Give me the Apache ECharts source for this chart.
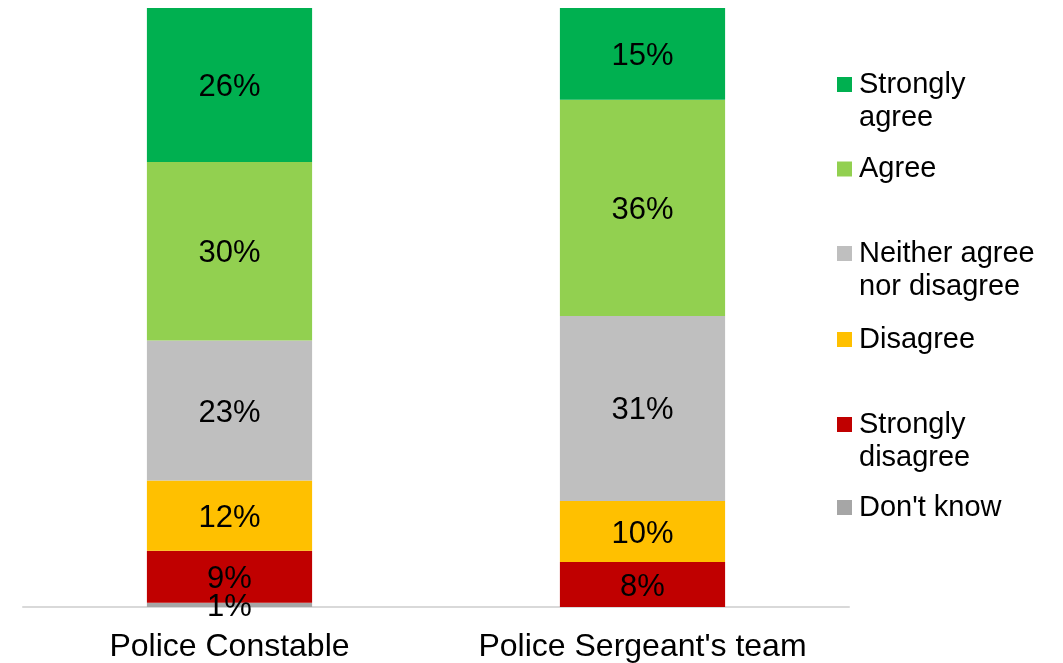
<!DOCTYPE html>
<html>
<head>
<meta charset="utf-8">
<script src="https://cdn.jsdelivr.net/npm/echarts@6/dist/echarts.min.js"></script>
<style>
  html, body { margin: 0; padding: 0; background: #fff; }
  #chart { width: 1063px; height: 663px; }
</style>
</head>
<body>
<div id="chart"></div>
<script>
  // categories on the x axis
  var categories = ['Police Constable', "Police Sergeant's team"];

  // stacked shares (%), bottom to top
  var dontKnow = [0.7, 0];
  var stronglyDisagree = [8.7, 7.5];
  var disagree = [11.7, 10.2];
  var neither = [23.4, 30.9];
  var agree = [29.8, 36.1];
  var stronglyAgree = [25.7, 15.3];

  var seriesNames = ["Don't know", 'Strongly disagree', 'Disagree',
    'Neither agree nor disagree', 'Agree', 'Strongly agree'];
  var seriesValues = [dontKnow, stronglyDisagree, disagree, neither, agree, stronglyAgree];
  var colors = ['#A6A6A6', '#C00000', '#FFC000', '#BFBFBF', '#92D050', '#00B050'];

  var font = 'Liberation Sans, Arial, sans-serif';

  // legend entries, top to bottom, with their wrapped text
  var legendItems = [
    { name: 'Strongly agree', text: 'Strongly\nagree', center: 84.5 },
    { name: 'Agree', text: 'Agree', center: 169 },
    { name: 'Neither agree nor disagree', text: 'Neither agree\nnor disagree', center: 253.5 },
    { name: 'Disagree', text: 'Disagree', center: 339.5 },
    { name: 'Strongly disagree', text: 'Strongly\ndisagree', center: 424.5 },
    { name: "Don't know", text: "Don't know", center: 507.5 }
  ];

  // two-line entries get a blank first line so the marker sits beside line one
  var legends = legendItems.map(function (item) {
    var twoLines = item.text.indexOf('\n') >= 0;
    return {
      left: 837,
      top: twoLines ? item.center - 49.5 : item.center - 16.5,
      padding: 0,
      itemWidth: 15,
      itemHeight: 15,
      itemGap: 0,
      icon: 'rect',
      selectedMode: false,
      data: [item.name],
      formatter: function () { return twoLines ? ' \n' + item.text : item.text; },
      textStyle: {
        fontFamily: font,
        fontSize: 29,
        lineHeight: 33,
        color: '#000',
        padding: [0, 0, 0, 2]
      }
    };
  });

  var series = seriesNames.map(function (name, i) {
    return {
      name: name,
      type: 'bar',
      stack: 'total',
      barWidth: '40%',
      data: seriesValues[i],
      itemStyle: { color: colors[i] },
      label: {
        show: true,
        position: 'inside',
        offset: [0, 2.5],
        fontFamily: font,
        fontSize: 31,
        color: '#000',
        formatter: function (p) {
          return p.value > 0.4 ? Math.round(p.value) + '%' : '';
        }
      }
    };
  });

  var chart = echarts.init(document.getElementById('chart'));

  var option = {
    animation: false,
    backgroundColor: '#fff',
    grid: {
      left: 23,
      right: 214,
      top: 8,
      bottom: 56
    },
    legend: legends,
    xAxis: {
      type: 'category',
      data: categories,
      axisTick: { show: false },
      axisLine: { show: true, lineStyle: { color: '#D9D9D9', width: 2 } },
      axisLabel: {
        interval: 0,
        fontFamily: font,
        fontSize: 32,
        color: '#000',
        margin: 24
      }
    },
    yAxis: {
      type: 'value',
      min: 0,
      max: 100,
      show: false,
      splitLine: { show: false }
    },
    series: series
  };

  chart.setOption(option);
</script>
</body>
</html>
